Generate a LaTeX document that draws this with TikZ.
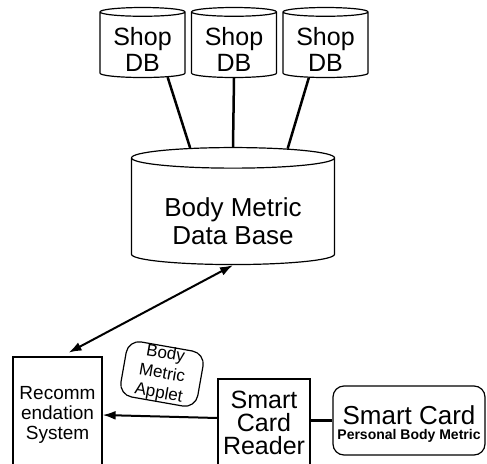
\documentclass[tikz,border=0pt]{standalone}
\usepackage{fontspec}
\setmainfont{Liberation Sans}
\usetikzlibrary{shapes.geometric,arrows.meta}

\tikzset{
  shopdb/.style={cylinder, shape border rotate=90, draw, line width=1.2pt,
    minimum width=85pt, minimum height=70pt, aspect=0.15, align=center,
    inner sep=0pt, font=\fontsize{25}{26}\selectfont},
  maindb/.style={cylinder, shape border rotate=90, draw, line width=1.2pt,
    minimum width=203pt, minimum height=117pt, aspect=0.15, align=center,
    inner sep=0pt, font=\fontsize{26}{28}\selectfont},
  box/.style={draw, line width=1.2pt, align=center, inner sep=0pt},
  link/.style={line width=2.5pt},
}

\begin{document}
\begin{tikzpicture}[x=1pt, y=-1pt, >={Latex[length=13pt,width=9pt]}]
    % Fix the size of the picture
    \useasboundingbox (0,0) rectangle (487,463);
    % Draw the shop data bases
    \node[shopdb] (shopA) at (142.5,45) {\rule{0pt}{26pt}Shop\\DB};
    \node[shopdb] (shopB) at (234,45) {\rule{0pt}{26pt}Shop\\DB};
    \node[shopdb] (shopC) at (325.5,45) {\rule{0pt}{26pt}Shop\\DB};
    % Draw the body metric data base
    \node[maindb] (bmdb) at (233,211.5) {\rule{0pt}{39pt}Body Metric\\Data Base};
    % Draw the lower boxes
    \node[box, minimum width=89pt, minimum height=116pt,
      font=\fontsize{19}{20}\selectfont] (rec) at (57.5,415)
      {Recomm\\endation\\System};
    \node[box, minimum width=92pt, minimum height=88pt,
      font=\fontsize{25}{23}\selectfont] (reader) at (264,423)
      {Smart\\Card\\Reader};
    \node[box, rounded corners=11pt, minimum width=152pt, minimum height=69pt,
      font=\fontsize{26}{22}\selectfont] (card) at (409,420.5)
      {\rule{0pt}{26pt}Smart Card\\[-7pt]\bfseries\fontsize{14}{15}\selectfont Personal Body Metric};
    \node[box, rounded corners=13pt, minimum width=78pt, minimum height=54pt,
      rotate=-10, font=\fontsize{17}{20}\selectfont] (applet) at (162,374)
      {Body\\Metric\\Applet};
    % Draw the connectors
    \draw[link] (shopA.-52) -- (bmdb.124);
    \draw[link] (shopB.south) -- (bmdb.north);
    \draw[link] (shopC.-117) -- (bmdb.49);
    \draw[<->, line width=2pt, shorten >=8pt] (bmdb.south) -- ([xshift=4pt]rec.north);
    \draw[->, line width=2pt] ([yshift=5pt]reader.west) -- (rec.east);
    \draw[line width=3.5pt] (reader.east |- card.west) -- (card.west);
\end{tikzpicture}
\end{document}
